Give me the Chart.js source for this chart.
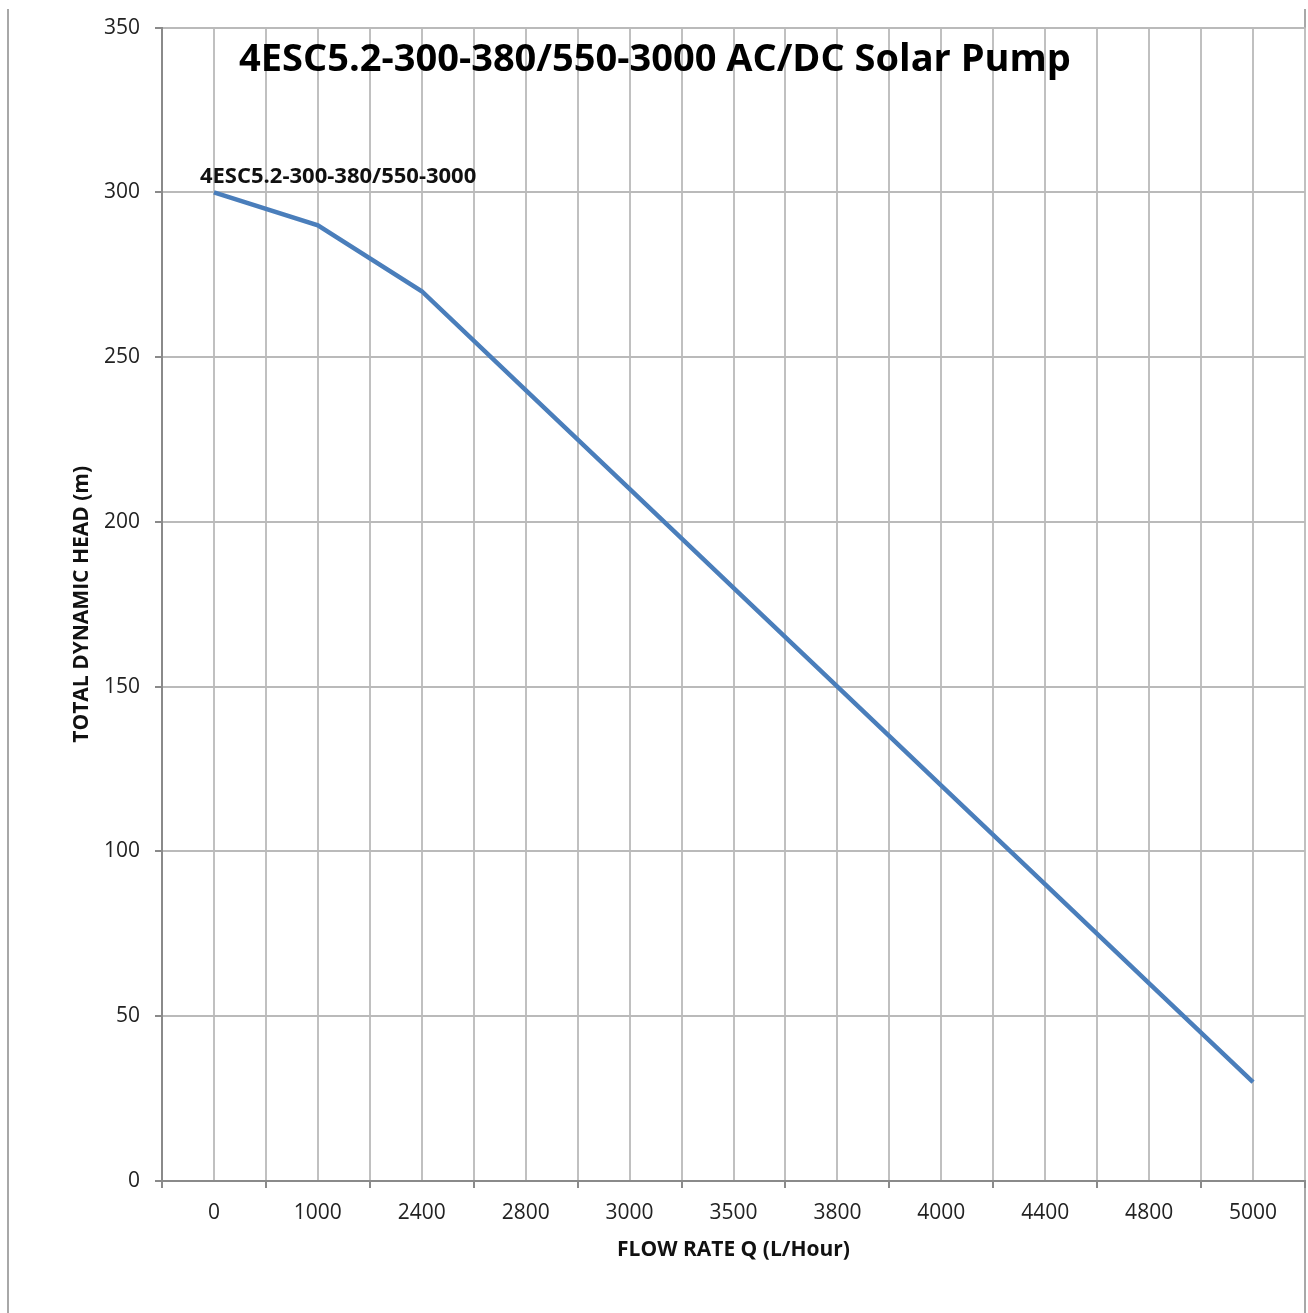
<!DOCTYPE html>
<html lang="en">

<head>
    <meta charset="UTF-8">
    <title>4ESC5.2-300-380/550-3000 AC/DC Solar Pump</title>
    <style>
        body {
            margin: 0;
            background: #fff;
        }

        .frame {
            position: absolute;
            left: 7px;
            top: 9px;
            width: 1295px;
            bottom: 0;
            border-left: 2px solid #a8a8a8;
            border-right: 2px solid #a8a8a8;
        }

        .blocker {
            position: relative;
            width: 1308px;
            height: 1313px;
        }
    </style>
    <script src="https://cdn.jsdelivr.net/npm/chart.js"></script>
</head>

<body>
    <div class="frame"></div>
    <div class="blocker">
        <canvas id="myChart" width="1308" height="1313"></canvas>
    </div>

    <script>
        const chartTitle = '4ESC5.2-300-380/550-3000 AC/DC Solar Pump';
        const seriesName = '4ESC5.2-300-380/550-3000';
        const flowLabels = ['0', '1000', '2400', '2800', '3000', '3500', '3800', '4000', '4400', '4800', '5000'];
        const headValues = [300, 290, 270, 240, 210, 180, 150, 120, 90, 60, 30];
        const headTicks = [0, 50, 100, 150, 200, 250, 300, 350];

        const ctx = document.getElementById('myChart');
        const fontFamily = '"Open Sans", sans-serif';

        // title drawn inside the plot, label next to the first point
        const textPlugin = {
            id: 'pumpText',
            afterDatasetsDraw(chart) {
                const c = chart.ctx;
                const area = chart.chartArea;
                c.save();
                c.fillStyle = '#000';
                c.textBaseline = 'alphabetic';
                c.textAlign = 'center';
                c.font = 'bold 38px ' + fontFamily;
                c.fillText(chartTitle, 655, area.top + 43);

                const p = chart.getDatasetMeta(0).data[0];
                c.textAlign = 'left';
                c.font = 'bold 22px ' + fontFamily;
                c.fillStyle = '#111';
                c.fillText(seriesName, p.x - 14, p.y - 9);
                c.restore();
            }
        };

        new Chart(ctx, {
            type: 'line',
            data: {
                datasets: [{
                    label: seriesName,
                    data: headValues.map((h, i) => ({ x: i, y: h })),
                    borderWidth: 4.5,
                    borderColor: '#4a7ebb',
                    pointRadius: 0,
                    tension: 0
                }]
            },
            plugins: [textPlugin],
            options: {
                responsive: false,
                animation: false,
                devicePixelRatio: 1,
                layout: {
                    padding: { left: 20, right: 3, top: 24, bottom: 0 }
                },
                plugins: {
                    legend: { display: false },
                    tooltip: { enabled: false }
                },
                scales: {
                    x: {
                        type: 'linear',
                        min: -0.5,
                        max: flowLabels.length - 0.5,
                        afterFit: s => {
                            s.height = 132;
                            s.paddingLeft = 0;
                            s.paddingRight = 0;
                        },
                        ticks: {
                            stepSize: 0.5,
                            autoSkip: false,
                            maxRotation: 0,
                            padding: 12,
                            color: '#222',
                            font: { family: fontFamily, size: 21 },
                            callback: v => Number.isInteger(v) ? flowLabels[v] : ''
                        },
                        grid: {
                            color: '#c0c0c0',
                            lineWidth: 2,
                            tickLength: 7,
                            tickColor: c => Number.isInteger(c.tick.value) ? 'rgba(0,0,0,0)' : '#8a8a8a'
                        },
                        border: { color: '#8a8a8a', width: 2 },
                        title: {
                            display: true,
                            text: 'FLOW RATE Q (L/Hour)',
                            color: '#111',
                            font: { family: fontFamily, size: 21, weight: 'bold' },
                            padding: { top: 0, bottom: 50 }
                        }
                    },
                    y: {
                        min: 0,
                        max: 350,
                        afterFit: s => { s.width = 142; },
                        afterBuildTicks: s => { s.ticks = headTicks.map(v => ({ value: v })); },
                        ticks: {
                            padding: 15,
                            color: '#222',
                            font: { family: fontFamily, size: 21 }
                        },
                        grid: {
                            color: '#bababa',
                            lineWidth: 2,
                            tickLength: 7,
                            tickColor: '#8a8a8a'
                        },
                        border: { color: '#8a8a8a', width: 2 },
                        title: {
                            display: true,
                            text: 'TOTAL DYNAMIC HEAD (m)',
                            color: '#111',
                            font: { family: fontFamily, size: 21, weight: 'bold' },
                            padding: { top: 49, bottom: 0 }
                        }
                    }
                }
            }
        });
    </script>
</body>

</html>
